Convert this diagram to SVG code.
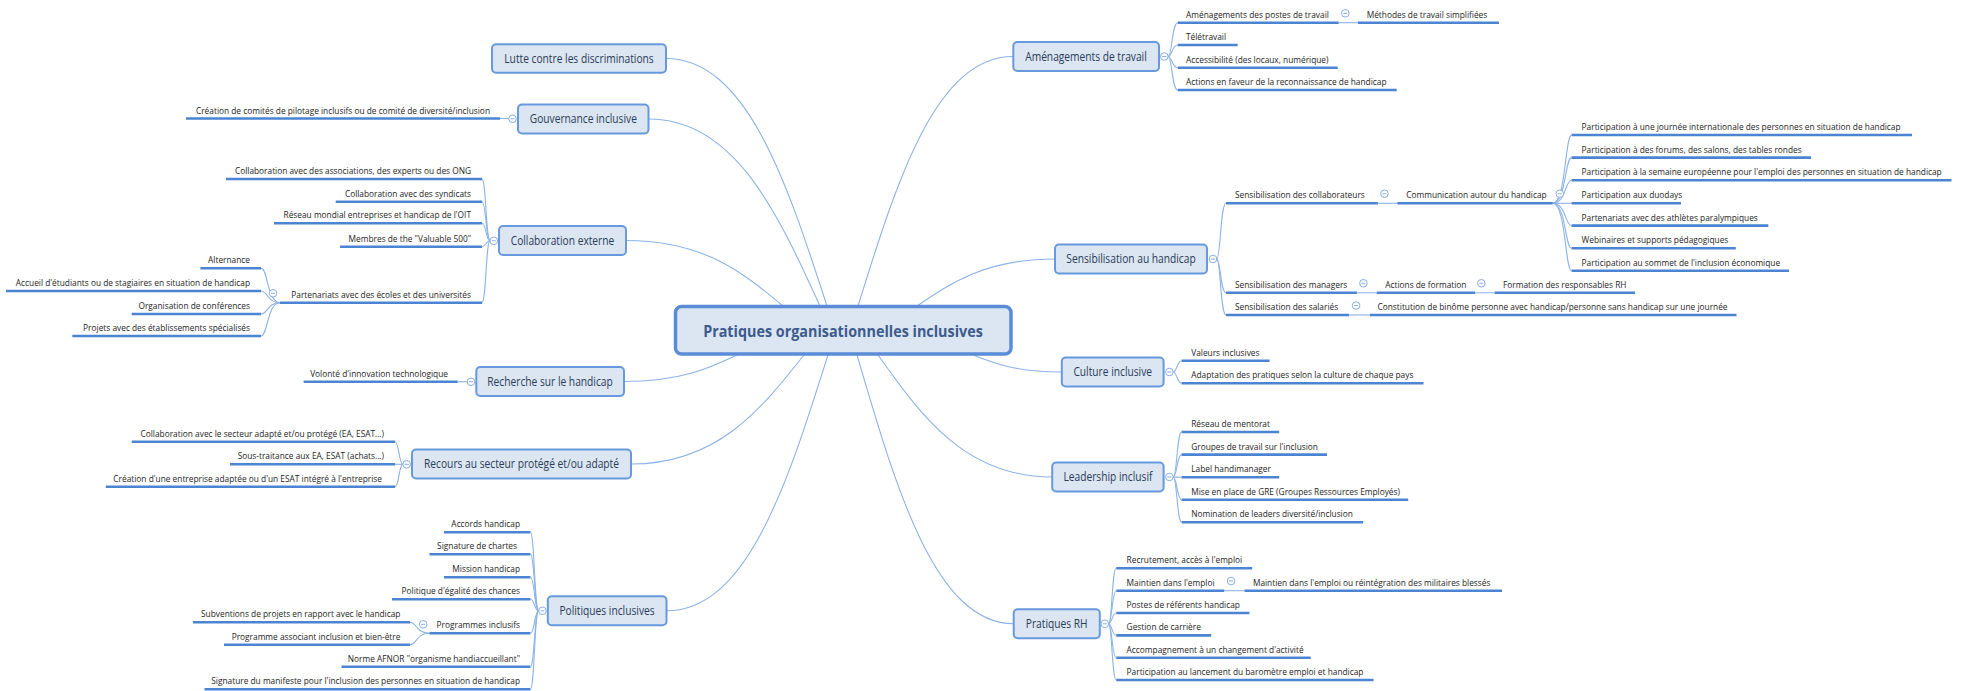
<svg xmlns="http://www.w3.org/2000/svg" width="1966" height="691" viewBox="0 0 1966 691">
<style>
text{font-family:"Open Sans","Noto Sans","DejaVu Sans",sans-serif}
.ct{font-size:16.7px;font-weight:700;fill:#3d5b8c;text-anchor:middle}
.mt{font-size:11.9px;fill:#2a3b57;text-anchor:middle}
.st{font-size:9.7px;fill:#1e1e1e}
.e{text-anchor:end}
.cen{fill:#dce6f3;stroke:#5a8cd8;stroke-width:3.5}
.box{fill:#dce6f2;stroke:#6699dd;stroke-width:2}
.ul{stroke:#4a84d2;stroke-width:2.6;fill:none}
.cn{stroke:#8cb3e8;stroke-width:1.1;fill:none}
.tg{fill:#fff;stroke:#86ade4;stroke-width:1}
</style>
<defs>
<g id="tog"><circle r="3.8" class="tg"/><path d="M-2 0H2" stroke="#86ade4" stroke-width="1"/></g>
</defs>
<rect width="1966" height="691" fill="#fff"/>
<g id="connectors">
<path class="cn" d="M827 306C786.8 182.3 746.5 58.5 666 58.5"/>
<path class="cn" d="M820 306C777.3 212.5 734.5 119 649 119"/>
<path class="cn" d="M783 306C743.8 273.3 704.5 240.5 626 240.5"/>
<path class="cn" d="M737 355C708.8 368.4 680.5 381.5 624 381.5"/>
<path class="cn" d="M804 355C760.8 409.5 717.5 464 631 464"/>
<path class="cn" d="M828 355C787.6 483 747.3 610.8 666.5 610.8"/>
<path class="cn" d="M858 306C896.8 181.4 935.5 56.5 1013 56.5"/>
<path class="cn" d="M917 306C951.5 282.5 986 259 1055 259"/>
<path class="cn" d="M973 355C995 363.7 1017 372 1061 372"/>
<path class="cn" d="M878 355C921.5 416 965 477 1052 477"/>
<path class="cn" d="M857 355C896.3 489.5 935.5 623.8 1014 623.8"/>
<path class="cn" d="M500 118.5H508.7"/>
<path class="cn" d="M490 240.8C486 240.8 486 179 482 179"/>
<path class="cn" d="M490 240.8C486 240.8 486 201.7 482 201.7"/>
<path class="cn" d="M490 240.8C486 240.8 486 223.3 482 223.3"/>
<path class="cn" d="M490 240.8C486 240.8 486 246.7 482 246.7"/>
<path class="cn" d="M490 240.8C486 240.8 486 302.7 482 302.7"/>
<path class="cn" d="M280 302.7C267 302.7 268 268.3 261 268.3"/>
<path class="cn" d="M280 302.7C267 302.7 268 291 261 291"/>
<path class="cn" d="M280 302.7C267 302.7 268 314 261 314"/>
<path class="cn" d="M280 302.7C267 302.7 268 336 261 336"/>
<path class="cn" d="M457.6 381.7H467.2"/>
<path class="cn" d="M402.9 464.3C399 464.3 399 441.7 395 441.7"/>
<path class="cn" d="M402.9 464.3H395"/>
<path class="cn" d="M402.9 464.3C399 464.3 399 486.7 395 486.7"/>
<path class="cn" d="M538.6 610.8C534.5 610.8 534.5 532.3 530.4 532.3"/>
<path class="cn" d="M538.6 610.8C534.5 610.8 534.5 554.3 530.4 554.3"/>
<path class="cn" d="M538.6 610.8C534.5 610.8 534.5 577.3 530.4 577.3"/>
<path class="cn" d="M538.6 610.8C534.5 610.8 534.5 599.3 530.4 599.3"/>
<path class="cn" d="M538.6 610.8C534.5 610.8 534.5 633.3 530.4 633.3"/>
<path class="cn" d="M538.6 610.8C534.5 610.8 534.5 666.7 530.4 666.7"/>
<path class="cn" d="M538.6 610.8C534.5 610.8 534.5 689.3 530.4 689.3"/>
<path class="cn" d="M429.5 633.3C416 633.3 417 622.3 410 622.3"/>
<path class="cn" d="M429.5 633.3C416 633.3 417 644.7 410 644.7"/>
<path class="cn" d="M1168.1 56.5C1172 56.5 1172 22.7 1177.7 22.7"/>
<path class="cn" d="M1168.1 56.5C1172 56.5 1172 45 1177.7 45"/>
<path class="cn" d="M1168.1 56.5C1172 56.5 1172 67.7 1177.7 67.7"/>
<path class="cn" d="M1168.1 56.5C1172 56.5 1172 90 1177.7 90"/>
<path class="cn" d="M1338.7 22.7H1358"/>
<path class="cn" d="M1216.8 259C1220.5 259 1220.5 203.3 1226 203.3"/>
<path class="cn" d="M1216.8 259C1220.5 259 1220.5 292.7 1226 292.7"/>
<path class="cn" d="M1216.8 259C1220.5 259 1220.5 315 1226 315"/>
<path class="cn" d="M1377.9 203.3H1397.4"/>
<path class="cn" d="M1552.7 203.3C1566 203.3 1565 135 1571.6 135"/>
<path class="cn" d="M1552.7 203.3C1566 203.3 1565 157.6 1571.6 157.6"/>
<path class="cn" d="M1552.7 203.3C1566 203.3 1565 180.2 1571.6 180.2"/>
<path class="cn" d="M1552.7 203.3H1571.6"/>
<path class="cn" d="M1552.7 203.3C1566 203.3 1565 225.6 1571.6 225.6"/>
<path class="cn" d="M1552.7 203.3C1566 203.3 1565 248.2 1571.6 248.2"/>
<path class="cn" d="M1552.7 203.3C1566 203.3 1565 270.7 1571.6 270.7"/>
<path class="cn" d="M1356.9 292.7H1376.8M1475.1 292.7H1494.6"/>
<path class="cn" d="M1349.2 315H1369.9"/>
<path class="cn" d="M1173.2 372C1177 372 1177 360.7 1181.6 360.7"/>
<path class="cn" d="M1173.2 372C1177 372 1177 383.3 1181.6 383.3"/>
<path class="cn" d="M1173.2 477C1177 477 1177 432 1181.6 432"/>
<path class="cn" d="M1173.2 477C1177 477 1177 454.6 1181.6 454.6"/>
<path class="cn" d="M1173.2 477C1177 477 1177 477.2 1181.6 477.2"/>
<path class="cn" d="M1173.2 477C1177 477 1177 499.8 1181.6 499.8"/>
<path class="cn" d="M1173.2 477C1177 477 1177 522.2 1181.6 522.2"/>
<path class="cn" d="M1108.6 623.8C1112 623.8 1112 568.3 1116.3 568.3"/>
<path class="cn" d="M1108.6 623.8C1112 623.8 1112 590.7 1116.3 590.7"/>
<path class="cn" d="M1108.6 623.8C1112 623.8 1112 613 1116.3 613"/>
<path class="cn" d="M1108.6 623.8C1112 623.8 1112 635.4 1116.3 635.4"/>
<path class="cn" d="M1108.6 623.8C1112 623.8 1112 657.7 1116.3 657.7"/>
<path class="cn" d="M1108.6 623.8C1112 623.8 1112 680 1116.3 680"/>
<path class="cn" d="M1224.2 590.7H1244.5"/>
</g>

<g id="central"><rect class="cen" x="675.5" y="306.5" width="335.5" height="47.5" rx="6"/><text class="ct" transform="translate(843 336.5) scale(.86 1)">Pratiques organisationnelles inclusives</text></g>

<g id="lutte"><rect class="box" x="492" y="44.3" width="174" height="28.5" rx="4"/><text class="mt" transform="translate(579 62.8) scale(.86 1)">Lutte contre les discriminations</text></g>

<g id="gouvernance"><rect class="box" x="518" y="104.5" width="130.5" height="29" rx="4"/><text class="mt" transform="translate(583.3 123.3) scale(.86 1)">Gouvernance inclusive</text><use href="#tog" x="512.5" y="118.8"/></g>
<g id="gouv-1"><path class="ul" d="M186 118.5H500"/><text class="st e" transform="translate(490 113.5) scale(.86 1)">Création de comités de pilotage inclusifs ou de comité de diversité/inclusion</text></g>

<g id="collab"><rect class="box" x="499" y="226" width="127" height="29" rx="4"/><text class="mt" transform="translate(562.5 244.8) scale(.86 1)">Collaboration externe</text><use href="#tog" x="493.8" y="240.8"/></g>
<g id="collab-1"><path class="ul" d="M226 179H482"/><text class="st e" transform="translate(471 174) scale(.86 1)">Collaboration avec des associations, des experts ou des ONG</text></g>
<g id="collab-2"><path class="ul" d="M335.7 201.7H482"/><text class="st e" transform="translate(471 196.7) scale(.86 1)">Collaboration avec des syndicats</text></g>
<g id="collab-3"><path class="ul" d="M274 223.3H482"/><text class="st e" transform="translate(471 218.3) scale(.86 1)">Réseau mondial entreprises et handicap de l'OIT</text></g>
<g id="collab-4"><path class="ul" d="M340 246.7H482"/><text class="st e" transform="translate(471 241.7) scale(.86 1)">Membres de the "Valuable 500"</text></g>
<g id="collab-5"><path class="ul" d="M280 302.7H482"/><text class="st e" transform="translate(471 297.7) scale(.86 1)">Partenariats avec des écoles et des universités</text><use href="#tog" x="273" y="293.3"/></g>
<g id="collab-5-1"><path class="ul" d="M200.4 268.3H261"/><text class="st e" transform="translate(250 263.3) scale(.86 1)">Alternance</text></g>
<g id="collab-5-2"><path class="ul" d="M6 291H261"/><text class="st e" transform="translate(250 286) scale(.86 1)">Accueil d'étudiants ou de stagiaires en situation de handicap</text></g>
<g id="collab-5-3"><path class="ul" d="M131.7 314H261"/><text class="st e" transform="translate(250 309) scale(.86 1)">Organisation de conférences</text></g>
<g id="collab-5-4"><path class="ul" d="M72.3 336H261"/><text class="st e" transform="translate(250 331) scale(.86 1)">Projets avec des établissements spécialisés</text></g>

<g id="recherche"><rect class="box" x="476.3" y="367" width="147.7" height="29" rx="4"/><text class="mt" transform="translate(550 385.8) scale(.86 1)">Recherche sur le handicap</text><use href="#tog" x="471" y="381.8"/></g>
<g id="recherche-1"><path class="ul" d="M303.6 381.7H457.6"/><text class="st e" transform="translate(448 376.7) scale(.86 1)">Volonté d'innovation technologique</text></g>

<g id="recours"><rect class="box" x="412" y="449.5" width="219" height="29" rx="4"/><text class="mt" transform="translate(521.5 468.3) scale(.86 1)">Recours au secteur protégé et/ou adapté</text><use href="#tog" x="406.7" y="464.3"/></g>
<g id="recours-1"><path class="ul" d="M131.7 441.7H395"/><text class="st e" transform="translate(384 436.7) scale(.86 1)">Collaboration avec le secteur adapté et/ou protégé (EA, ESAT…)</text></g>
<g id="recours-2"><path class="ul" d="M230 464.3H395"/><text class="st e" transform="translate(384 459.3) scale(.86 1)">Sous-traitance aux EA, ESAT (achats…)</text></g>
<g id="recours-3"><path class="ul" d="M105.8 486.7H395"/><text class="st e" transform="translate(382 481.7) scale(.86 1)">Création d'une entreprise adaptée ou d'un ESAT intégré à l'entreprise</text></g>

<g id="politiques"><rect class="box" x="547.8" y="596.3" width="118.7" height="29" rx="4"/><text class="mt" transform="translate(607 615.1) scale(.86 1)">Politiques inclusives</text><use href="#tog" x="542.4" y="610.8"/></g>
<g id="pol-1"><path class="ul" d="M444 532.3H530.4"/><text class="st e" transform="translate(520 527.3) scale(.86 1)">Accords handicap</text></g>
<g id="pol-2"><path class="ul" d="M429.5 554.3H530.4"/><text class="st e" transform="translate(517 549.3) scale(.86 1)">Signature de chartes</text></g>
<g id="pol-3"><path class="ul" d="M444 577.3H530.4"/><text class="st e" transform="translate(520 572.3) scale(.86 1)">Mission handicap</text></g>
<g id="pol-4"><path class="ul" d="M392 599.3H530.4"/><text class="st e" transform="translate(520 594.3) scale(.86 1)">Politique d'égalité des chances</text></g>
<g id="pol-5"><path class="ul" d="M429.5 633.3H530.4"/><text class="st e" transform="translate(520 628.3) scale(.86 1)">Programmes inclusifs</text><use href="#tog" x="423.2" y="624.3"/></g>
<g id="pol-5-1"><path class="ul" d="M192.9 622.3H410"/><text class="st e" transform="translate(400.4 617.3) scale(.86 1)">Subventions de projets en rapport avec le handicap</text></g>
<g id="pol-5-2"><path class="ul" d="M224 644.7H410"/><text class="st e" transform="translate(400.4 639.7) scale(.86 1)">Programme associant inclusion et bien-être</text></g>
<g id="pol-6"><path class="ul" d="M341.5 666.7H530.4"/><text class="st e" transform="translate(520 661.7) scale(.86 1)">Norme AFNOR "organisme handiaccueillant"</text></g>
<g id="pol-7"><path class="ul" d="M204.5 689.3H530.4"/><text class="st e" transform="translate(520 684.3) scale(.86 1)">Signature du manifeste pour l'inclusion des personnes en situation de handicap</text></g>

<g id="amenagements"><rect class="box" x="1013.3" y="42" width="145.7" height="29" rx="4"/><text class="mt" transform="translate(1086 60.8) scale(.86 1)">Aménagements de travail</text><use href="#tog" x="1164.3" y="56.5"/></g>
<g id="amen-1"><path class="ul" d="M1177.7 22.7H1338.7"/><text class="st" transform="translate(1186 17.7) scale(.86 1)">Aménagements des postes de travail</text><use href="#tog" x="1345.3" y="13.3"/></g>
<g id="amen-1-1"><path class="ul" d="M1358 22.7H1499"/><text class="st" transform="translate(1366.7 17.7) scale(.86 1)">Méthodes de travail simplifiées</text></g>
<g id="amen-2"><path class="ul" d="M1177.7 45H1237.7"/><text class="st" transform="translate(1186 40) scale(.86 1)">Télétravail</text></g>
<g id="amen-3"><path class="ul" d="M1177.7 67.7H1337.7"/><text class="st" transform="translate(1186 62.7) scale(.86 1)">Accessibilité (des locaux, numérique)</text></g>
<g id="amen-4"><path class="ul" d="M1177.7 90H1396.7"/><text class="st" transform="translate(1186 85) scale(.86 1)">Actions en faveur de la reconnaissance de handicap</text></g>

<g id="sensibilisation"><rect class="box" x="1055" y="244.5" width="152" height="29" rx="4"/><text class="mt" transform="translate(1131 263.3) scale(.86 1)">Sensibilisation au handicap</text><use href="#tog" x="1213" y="259"/></g>
<g id="sens-1"><path class="ul" d="M1226 203.3H1377.9"/><text class="st" transform="translate(1235 198.3) scale(.86 1)">Sensibilisation des collaborateurs</text><use href="#tog" x="1384.4" y="193.7"/></g>
<g id="sens-1-1"><path class="ul" d="M1397.4 203.3H1552.7"/><text class="st" transform="translate(1406.2 198.3) scale(.86 1)">Communication autour du handicap</text><use href="#tog" x="1559.8" y="193.7"/></g>
<g id="sens-1-1-1"><path class="ul" d="M1571.6 135H1912"/><text class="st" transform="translate(1581.6 130) scale(.86 1)">Participation à une journée internationale des personnes en situation de handicap</text></g>
<g id="sens-1-1-2"><path class="ul" d="M1571.6 157.6H1811"/><text class="st" transform="translate(1581.6 152.6) scale(.86 1)">Participation à des forums, des salons, des tables rondes</text></g>
<g id="sens-1-1-3"><path class="ul" d="M1571.6 180.2H1951.5"/><text class="st" transform="translate(1581.6 175.2) scale(.86 1)">Participation à la semaine européenne pour l'emploi des personnes en situation de handicap</text></g>
<g id="sens-1-1-4"><path class="ul" d="M1571.6 203.3H1681"/><text class="st" transform="translate(1581.6 198.3) scale(.86 1)">Participation aux duodays</text></g>
<g id="sens-1-1-5"><path class="ul" d="M1571.6 225.6H1768.3"/><text class="st" transform="translate(1581.6 220.6) scale(.86 1)">Partenariats avec des athlètes paralympiques</text></g>
<g id="sens-1-1-6"><path class="ul" d="M1571.6 248.2H1735.8"/><text class="st" transform="translate(1581.6 243.2) scale(.86 1)">Webinaires et supports pédagogiques</text></g>
<g id="sens-1-1-7"><path class="ul" d="M1571.6 270.7H1789"/><text class="st" transform="translate(1581.6 265.7) scale(.86 1)">Participation au sommet de l'inclusion économique</text></g>
<g id="sens-2"><path class="ul" d="M1226 292.7H1356.9"/><text class="st" transform="translate(1235 287.7) scale(.86 1)">Sensibilisation des managers</text><use href="#tog" x="1363.4" y="283.3"/></g>
<g id="sens-2-1"><path class="ul" d="M1376.8 292.7H1475.1"/><text class="st" transform="translate(1385.2 287.7) scale(.86 1)">Actions de formation</text><use href="#tog" x="1481.3" y="283.3"/></g>
<g id="sens-2-1-1"><path class="ul" d="M1494.6 292.7H1635.1"/><text class="st" transform="translate(1503 287.7) scale(.86 1)">Formation des responsables RH</text></g>
<g id="sens-3"><path class="ul" d="M1226 315H1349.2"/><text class="st" transform="translate(1235 310) scale(.86 1)">Sensibilisation des salariés</text><use href="#tog" x="1356.1" y="305.5"/></g>
<g id="sens-3-1"><path class="ul" d="M1369.9 315H1736.5"/><text class="st" transform="translate(1377.5 310) scale(.86 1)">Constitution de binôme personne avec handicap/personne sans handicap sur une journée</text></g>

<g id="culture"><rect class="box" x="1061.8" y="357.5" width="101.8" height="29" rx="4"/><text class="mt" transform="translate(1112.7 376.3) scale(.86 1)">Culture inclusive</text><use href="#tog" x="1169.4" y="372"/></g>
<g id="cult-1"><path class="ul" d="M1181.6 360.7H1269.6"/><text class="st" transform="translate(1191.2 355.7) scale(.86 1)">Valeurs inclusives</text></g>
<g id="cult-2"><path class="ul" d="M1181.6 383.3H1423.5"/><text class="st" transform="translate(1191.2 378.3) scale(.86 1)">Adaptation des pratiques selon la culture de chaque pays</text></g>

<g id="leadership"><rect class="box" x="1052.2" y="462.5" width="111.4" height="29" rx="4"/><text class="mt" transform="translate(1107.9 481.3) scale(.86 1)">Leadership inclusif</text><use href="#tog" x="1169.4" y="477"/></g>
<g id="lead-1"><path class="ul" d="M1181.6 432H1279.2"/><text class="st" transform="translate(1191.2 427) scale(.86 1)">Réseau de mentorat</text></g>
<g id="lead-2"><path class="ul" d="M1181.6 454.6H1327"/><text class="st" transform="translate(1191.2 449.6) scale(.86 1)">Groupes de travail sur l'inclusion</text></g>
<g id="lead-3"><path class="ul" d="M1181.6 477.2H1279.2"/><text class="st" transform="translate(1191.2 472.2) scale(.86 1)">Label handimanager</text></g>
<g id="lead-4"><path class="ul" d="M1181.6 499.8H1408.2"/><text class="st" transform="translate(1191.2 494.8) scale(.86 1)">Mise en place de GRE (Groupes Ressources Employés)</text></g>
<g id="lead-5"><path class="ul" d="M1181.6 522.2H1363.1"/><text class="st" transform="translate(1191.2 517.2) scale(.86 1)">Nomination de leaders diversité/inclusion</text></g>

<g id="rh"><rect class="box" x="1013.7" y="609.3" width="86.1" height="29" rx="4"/><text class="mt" transform="translate(1056.7 628.1) scale(.86 1)">Pratiques RH</text><use href="#tog" x="1104.8" y="623.8"/></g>
<g id="rh-1"><path class="ul" d="M1116.3 568.3H1252.2"/><text class="st" transform="translate(1126.6 563.3) scale(.86 1)">Recrutement, accès à l'emploi</text></g>
<g id="rh-2"><path class="ul" d="M1116.3 590.7H1224.2"/><text class="st" transform="translate(1126.6 585.7) scale(.86 1)">Maintien dans l'emploi</text><use href="#tog" x="1231.1" y="581"/></g>
<g id="rh-2-1"><path class="ul" d="M1244.5 590.7H1502"/><text class="st" transform="translate(1252.9 585.7) scale(.86 1)">Maintien dans l'emploi ou réintégration des militaires blessés</text></g>
<g id="rh-3"><path class="ul" d="M1116.3 613H1249.5"/><text class="st" transform="translate(1126.6 608) scale(.86 1)">Postes de référents handicap</text></g>
<g id="rh-4"><path class="ul" d="M1116.3 635.4H1211.2"/><text class="st" transform="translate(1126.6 630.4) scale(.86 1)">Gestion de carrière</text></g>
<g id="rh-5"><path class="ul" d="M1116.3 657.7H1310.7"/><text class="st" transform="translate(1126.6 652.7) scale(.86 1)">Accompagnement à un changement d'activité</text></g>
<g id="rh-6"><path class="ul" d="M1116.3 680H1373.5"/><text class="st" transform="translate(1126.6 675) scale(.86 1)">Participation au lancement du baromètre emploi et handicap</text></g>
</svg>
